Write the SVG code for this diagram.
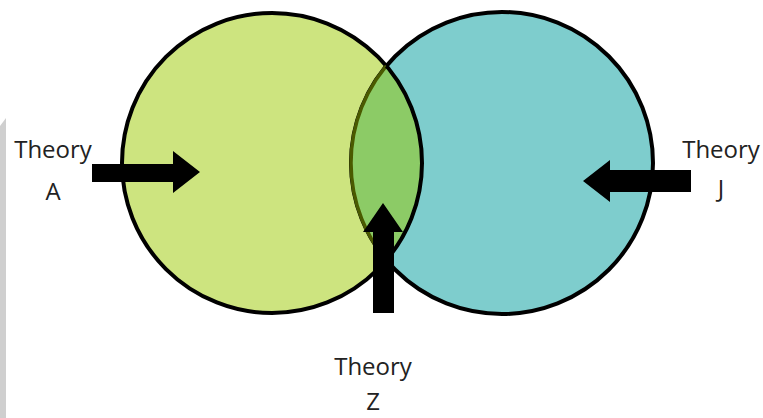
<svg xmlns="http://www.w3.org/2000/svg" width="763" height="418" viewBox="0 0 763 418">
<style>
.lbl{font-family:"Open Sans","Noto Sans",sans-serif;font-size:24px;fill:#222;text-anchor:middle}
.arrow{fill:#000}
</style>
<defs>
<clipPath id="clipL"><circle cx="272" cy="163" r="150"/></clipPath>
<clipPath id="clipJ"><circle cx="502" cy="163" r="151"/></clipPath>
</defs>
<rect x="0" y="0" width="763" height="418" fill="#fff"/>
<polygon points="0,126 6,118 6,418 0,418" fill="#cfcfcf"/>
<g id="circleA">
<circle cx="272" cy="163" r="150" fill="#cde47f" stroke="#000" stroke-width="4"/>
</g>
<g id="circleJ">
<circle cx="502" cy="163" r="151" fill="#7ecdcd" stroke="#000" stroke-width="4"/>
</g>
<g id="overlap">
<circle cx="502" cy="163" r="151" fill="#8ccb66" stroke="#4a5a00" stroke-width="3.5" clip-path="url(#clipL)"/>
<circle cx="272" cy="163" r="150" fill="none" stroke="#000" stroke-width="4" clip-path="url(#clipJ)"/>
</g>
<g id="connectors">
<polygon class="arrow" points="92,164 173,164 173,151 200,172 173,193 173,182 92,182"/>
<polygon class="arrow" points="691,170 610,170 610,160 583,181 610,202 610,192 691,192"/>
<polygon class="arrow" points="373,313 373,232 363,232 383,203 403,232 394,232 394,313"/>
</g>
<g id="theoryA">
<text class="lbl" x="53" y="158">Theory</text>
<text class="lbl" x="53" y="200">A</text>
</g>
<g id="theoryJ">
<text class="lbl" x="721" y="158">Theory</text>
<text class="lbl" x="721" y="197">J</text>
</g>
<g id="theoryZ">
<text class="lbl" x="373" y="375">Theory</text>
<text class="lbl" x="373" y="410">Z</text>
</g>
</svg>
